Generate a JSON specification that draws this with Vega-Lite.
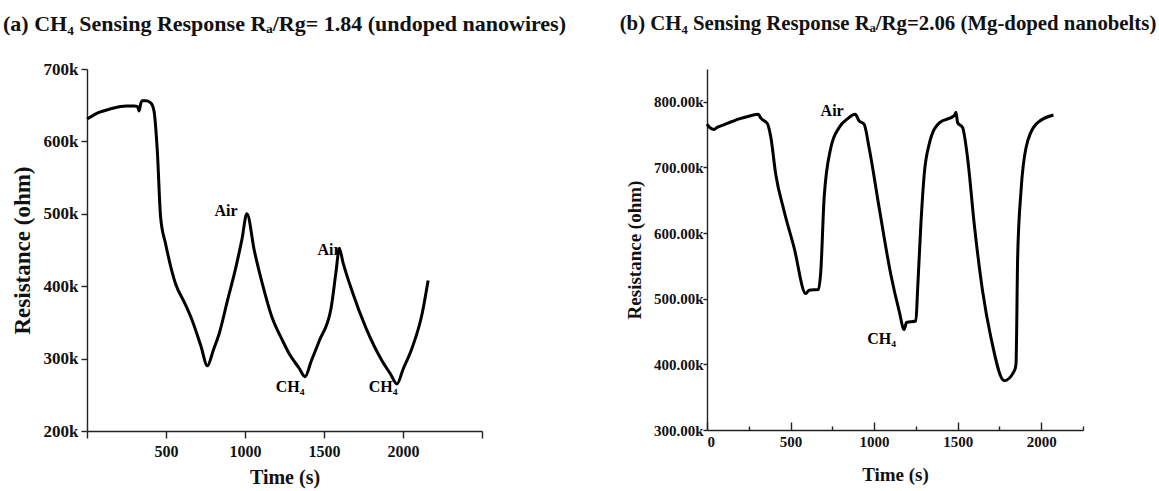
{
  "$schema": "https://vega.github.io/schema/vega-lite/v6.json",
  "background": "white",
  "padding": {"left": 2, "top": 13, "right": 5, "bottom": 2},
  "bounds": "flush",
  "spacing": 225,
  "config": {
    "view": {"stroke": null},
    "font": "Liberation Serif",
    "axis": {
      "grid": false,
      "domainColor": "#222",
      "domainWidth": 1.4,
      "tickColor": "#222",
      "tickWidth": 1.4,
      "labelFont": "Liberation Serif",
      "labelFontWeight": "bold",
      "labelColor": "#111",
      "titleFont": "Liberation Serif",
      "titleFontWeight": "bold",
      "titleColor": "#111"
    },
    "title": {"font": "Liberation Serif", "fontWeight": "bold", "color": "#111", "anchor": "middle"}
  },
  "hconcat": [
    {
      "width": 395,
      "height": 362,
      "title": {"text": "(a) CH₄ Sensing Response Rₐ/Rg= 1.84 (undoped nanowires)", "fontSize": 22, "offset": 24},
      "layer": [
        {
          "data": {"values": [
            {"t": 0, "R": 631000}, {"t": 40, "R": 636000}, {"t": 76, "R": 640000}, {"t": 150, "R": 645000},
            {"t": 247, "R": 649000}, {"t": 300, "R": 649000}, {"t": 320, "R": 648000}, {"t": 330, "R": 642000},
            {"t": 340, "R": 652000}, {"t": 350, "R": 656000}, {"t": 375, "R": 656000}, {"t": 405, "R": 653000},
            {"t": 424, "R": 642000}, {"t": 445, "R": 587000}, {"t": 466, "R": 495000}, {"t": 498, "R": 458000},
            {"t": 561, "R": 403000}, {"t": 620, "R": 376000}, {"t": 667, "R": 352000}, {"t": 720, "R": 318000},
            {"t": 762, "R": 290000}, {"t": 800, "R": 312000}, {"t": 836, "R": 334000}, {"t": 890, "R": 381000},
            {"t": 941, "R": 425000}, {"t": 980, "R": 464000}, {"t": 1012, "R": 500000}, {"t": 1060, "R": 448000},
            {"t": 1108, "R": 405000}, {"t": 1171, "R": 357000}, {"t": 1235, "R": 326000}, {"t": 1279, "R": 307000},
            {"t": 1342, "R": 287000}, {"t": 1380, "R": 275000}, {"t": 1420, "R": 297000}, {"t": 1469, "R": 324000},
            {"t": 1545, "R": 370000}, {"t": 1575, "R": 418000}, {"t": 1597, "R": 452000}, {"t": 1620, "R": 433000},
            {"t": 1678, "R": 393000}, {"t": 1766, "R": 342000}, {"t": 1867, "R": 297000}, {"t": 1920, "R": 279000},
            {"t": 1962, "R": 265000}, {"t": 2000, "R": 285000}, {"t": 2058, "R": 315000}, {"t": 2121, "R": 362000},
            {"t": 2159, "R": 408000}
          ]},
          "mark": {"type": "line", "color": "black", "strokeWidth": 3, "interpolate": "monotone"},
          "encoding": {
            "x": {"field": "t", "type": "quantitative", "title": "Time (s)",
              "scale": {"domain": [0, 2500], "nice": false, "zero": false},
              "axis": {
                "values": [0, 250, 500, 750, 1000, 1250, 1500, 1750, 2000, 2250, 2500],
                "format": "d",
                "labelExpr": "datum.value % 500 == 0 && datum.value > 0 && datum.value < 2500 ? datum.label : ''",
                "tickSize": {"condition": {"test": "datum.value % 500 == 0", "value": 7}, "value": 4},
                "labelPadding": 5, "labelFontSize": 16, "titleFontSize": 20, "titlePadding": 8
              }},
            "y": {"field": "R", "type": "quantitative", "title": "Resistance (ohm)",
              "scale": {"domain": [200000, 700000], "nice": false, "zero": false},
              "axis": {
                "values": [200000, 250000, 300000, 350000, 400000, 450000, 500000, 550000, 600000, 650000, 700000],
                "format": "~s",
                "labelExpr": "datum.value % 100000 == 0 ? datum.label : ''",
                "tickSize": {"condition": {"test": "datum.value % 100000 == 0", "value": 6}, "value": 3},
                "labelPadding": 3, "labelFontSize": 17, "titleFontSize": 23, "titlePadding": 9
              }}
          }
        },
        {
          "data": {"values": [
            {"t": 880, "R": 504000, "label": "Air"},
            {"t": 1532, "R": 450000, "label": "Air"},
            {"t": 1285, "R": 261000, "label": "CH₄"},
            {"t": 1874, "R": 261000, "label": "CH₄"}
          ]},
          "mark": {"type": "text", "font": "Liberation Serif", "fontWeight": "bold", "fontSize": 16, "color": "black", "align": "center", "baseline": "middle"},
          "encoding": {
            "x": {"field": "t", "type": "quantitative"},
            "y": {"field": "R", "type": "quantitative"},
            "text": {"field": "label"}
          }
        }
      ]
    },
    {
      "width": 376,
      "height": 361,
      "title": {"text": "(b) CH₄ Sensing Response Rₐ/Rg=2.06 (Mg-doped nanobelts)", "fontSize": 20.8, "offset": 34, "dx": -7},
      "layer": [
        {
          "data": {"values": [
            {"t": 0, "R": 766000}, {"t": 20, "R": 760000}, {"t": 42, "R": 758000}, {"t": 60, "R": 761000},
            {"t": 100, "R": 765000}, {"t": 150, "R": 770000}, {"t": 192, "R": 774000}, {"t": 250, "R": 778000},
            {"t": 307, "R": 781000}, {"t": 322, "R": 775000}, {"t": 361, "R": 767000}, {"t": 382, "R": 746000},
            {"t": 411, "R": 690000}, {"t": 461, "R": 634000}, {"t": 521, "R": 578000}, {"t": 591, "R": 508000},
            {"t": 611, "R": 513000}, {"t": 667, "R": 514000}, {"t": 681, "R": 542000}, {"t": 701, "R": 654000},
            {"t": 741, "R": 730000}, {"t": 791, "R": 761000}, {"t": 840, "R": 774000}, {"t": 887, "R": 781000},
            {"t": 910, "R": 771000}, {"t": 940, "R": 766000}, {"t": 970, "R": 730000}, {"t": 1030, "R": 639000},
            {"t": 1100, "R": 537000}, {"t": 1150, "R": 481000}, {"t": 1180, "R": 453000}, {"t": 1194, "R": 464000},
            {"t": 1250, "R": 466000}, {"t": 1260, "R": 512000}, {"t": 1280, "R": 614000}, {"t": 1300, "R": 690000},
            {"t": 1330, "R": 736000}, {"t": 1390, "R": 768000}, {"t": 1480, "R": 779000}, {"t": 1490, "R": 784000},
            {"t": 1500, "R": 768000}, {"t": 1529, "R": 761000}, {"t": 1559, "R": 715000}, {"t": 1599, "R": 614000},
            {"t": 1649, "R": 512000}, {"t": 1699, "R": 441000}, {"t": 1779, "R": 375000}, {"t": 1839, "R": 390000},
            {"t": 1849, "R": 400000}, {"t": 1859, "R": 563000}, {"t": 1879, "R": 664000}, {"t": 1909, "R": 730000},
            {"t": 1969, "R": 766000}, {"t": 2073, "R": 780000}
          ]},
          "mark": {"type": "line", "color": "black", "strokeWidth": 3, "interpolate": "monotone"},
          "encoding": {
            "x": {"field": "t", "type": "quantitative", "title": "Time (s)",
              "scale": {"domain": [0, 2250], "nice": false, "zero": false},
              "axis": {
                "values": [0, 250, 500, 750, 1000, 1250, 1500, 1750, 2000, 2250],
                "format": "d",
                "labelExpr": "datum.value % 500 == 0 ? datum.label : ''",
                "tickSize": {"condition": {"test": "datum.value % 500 == 0", "value": -8}, "value": -4},
                "labelPadding": 12, "labelFontSize": 15, "titleFontSize": 19, "titlePadding": 16
              }},
            "y": {"field": "R", "type": "quantitative", "title": "Resistance (ohm)",
              "scale": {"domain": [300000, 850000], "nice": false, "zero": false},
              "axis": {
                "values": [300000, 350000, 400000, 450000, 500000, 550000, 600000, 650000, 700000, 750000, 800000, 850000],
                "format": ".5s",
                "labelExpr": "datum.value % 100000 == 0 && datum.value < 850000 ? datum.label : ''",
                "tickSize": {"condition": {"test": "datum.value % 100000 == 0", "value": 4}, "value": 3},
                "labelPadding": 0, "labelFontSize": 15, "titleFontSize": 19, "titlePadding": 9
              }}
          }
        },
        {
          "data": {"values": [
            {"t": 749, "R": 786000, "label": "Air"},
            {"t": 1045, "R": 439000, "label": "CH₄"}
          ]},
          "mark": {"type": "text", "font": "Liberation Serif", "fontWeight": "bold", "fontSize": 16, "color": "black", "align": "center", "baseline": "middle"},
          "encoding": {
            "x": {"field": "t", "type": "quantitative"},
            "y": {"field": "R", "type": "quantitative"},
            "text": {"field": "label"}
          }
        }
      ]
    }
  ]
}
